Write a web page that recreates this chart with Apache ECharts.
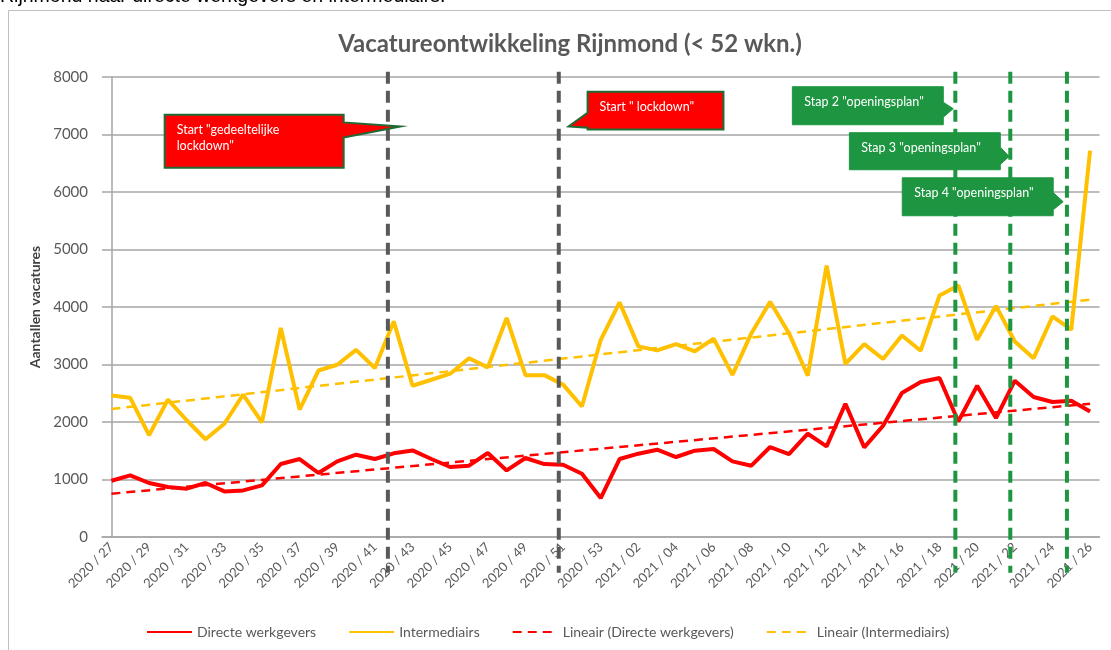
<!DOCTYPE html>
<html>
<head>
<meta charset="utf-8">
<script src="https://cdn.jsdelivr.net/npm/echarts@6/dist/echarts.min.js"></script>
<style>
  html, body { margin: 0; padding: 0; background: #fff; }
  #chart { width: 1111px; height: 650px; }
</style>
</head>
<body>
<div id="chart"></div>
<script>
// weken (categorieen)
const weeks = [
  "2020 / 27", "2020 / 28", "2020 / 29", "2020 / 30", "2020 / 31", "2020 / 32", "2020 / 33", "2020 / 34",
  "2020 / 35", "2020 / 36", "2020 / 37", "2020 / 38", "2020 / 39", "2020 / 40", "2020 / 41", "2020 / 42",
  "2020 / 43", "2020 / 44", "2020 / 45", "2020 / 46", "2020 / 47", "2020 / 48", "2020 / 49", "2020 / 50",
  "2020 / 51", "2020 / 52", "2020 / 53", "2021 / 01", "2021 / 02", "2021 / 03", "2021 / 04", "2021 / 05",
  "2021 / 06", "2021 / 07", "2021 / 08", "2021 / 09", "2021 / 10", "2021 / 11", "2021 / 12", "2021 / 13",
  "2021 / 14", "2021 / 15", "2021 / 16", "2021 / 17", "2021 / 18", "2021 / 19", "2021 / 20", "2021 / 21",
  "2021 / 22", "2021 / 23", "2021 / 24", "2021 / 25", "2021 / 26"
];

const directeWerkgevers = [
  979, 1071, 939, 869, 840, 939, 793, 810, 897, 1269, 1356, 1113, 1315, 1431, 1356, 1455,
  1506, 1356, 1217, 1240, 1461, 1158, 1374, 1269, 1257, 1101, 678, 1356, 1449, 1518, 1391, 1501,
  1530, 1315, 1240, 1565, 1443, 1796, 1576, 2318, 1559, 1935, 2504, 2695, 2765, 2010, 2631, 2069,
  2718, 2435, 2348, 2370, 2184
];

const intermediairs = [
  2460, 2420, 1770, 2390, 2030, 1700, 1970, 2475, 1995, 3635, 2215, 2895, 2995, 3255, 2940, 3750,
  2630, 2735, 2840, 3110, 2950, 3810, 2815, 2815, 2650, 2270, 3430, 4080, 3315, 3245, 3355, 3230,
  3450, 2820, 3540, 4090, 3545, 2805, 4720, 3010, 3355, 3095, 3505, 3240, 4200, 4375, 3430, 4020,
  3400, 3110, 3835, 3605, 6720
];

const trendDirecte = [[0, 753], [52, 2318]];
const trendInter = [[0, 2226], [52, 4127]];

const yTicks = [0, 1000, 2000, 3000, 4000, 5000, 6000, 7000, 8000];

// verticale markeringen: [x (week-index), yBoven, yOnder]
const greyMarkers = [[14.69, 8090, -620], [23.77, 8090, -620]];
const greenMarkers = [[44.84, 8090, -620], [47.76, 8090, -620], [50.77, 8090, -620]];

// callouts: [x0, x1, yTop, yBot, basisA, basisB, tipX, tipY]
const callouts = [
  [2.83, 12.34, 7344, 6423, 7210, 6948, 15.36, 7140],
  [25.3, 32.52, 7744, 7088, 7378, 7118, 24.29, 7140],
  [36.18, 44.2, 7831, 7170, 7560, 7300, 44.73, 7450],
  [39.21, 47.23, 7031, 6387, 6780, 6480, 47.7, 6618],
  [42.02, 50.04, 6247, 5587, 5990, 5690, 50.57, 5831]
];
const calloutTexts = [
  'Start "gedeeltelijke\nlockdown"',
  'Start " lockdown"',
  'Stap 2 "openingsplan"',
  'Stap 3 "openingsplan"',
  'Stap 4 "openingsplan"'
];
const calloutFill = ['#FF0000', '#FF0000', '#1E9641', '#1E9641', '#1E9641'];
const calloutBorder = ['#1F6B35', '#1F6B35', null, null, null];

const FONT = 'Lato, "Open Sans", sans-serif';

const chart = echarts.init(document.getElementById('chart'));

function renderMarker(color) {
  return function (params, api) {
    const p1 = api.coord([api.value(0), api.value(1)]);
    const p2 = api.coord([api.value(0), api.value(2)]);
    return {
      type: 'line',
      shape: { x1: p1[0], y1: p1[1], x2: p2[0], y2: p2[1] },
      style: { stroke: color, lineWidth: 4, lineDash: [12, 7] }
    };
  };
}

function renderCallout(params, api) {
  const i = params.dataIndex;
  const c = callouts[i];
  const pt = (x, y) => api.coord([x, y]);
  const [x0, x1, yt, yb, a, b, tx, ty] = c;
  let pts;
  if (tx > x1) {
    pts = [pt(x0, yt), pt(x1, yt), pt(x1, a), pt(tx, ty), pt(x1, b), pt(x1, yb), pt(x0, yb)];
  } else {
    pts = [pt(x0, yt), pt(x1, yt), pt(x1, yb), pt(x0, yb), pt(x0, b), pt(tx, ty), pt(x0, a)];
  }
  const tl = pt(x0, yt);
  return {
    type: 'group',
    children: [
      {
        type: 'polygon',
        shape: { points: pts },
        style: {
          fill: calloutFill[i],
          stroke: calloutBorder[i] || calloutFill[i],
          lineWidth: calloutBorder[i] ? 2 : 1
        }
      },
      {
        type: 'text',
        x: tl[0] + 12,
        y: tl[1] + 7,
        style: {
          text: calloutTexts[i],
          fill: '#fff',
          fontSize: 12.5,
          fontFamily: FONT,
          lineHeight: 16,
          align: 'left',
          verticalAlign: 'top'
        }
      }
    ]
  };
}

const option = {
  animation: false,
  backgroundColor: '#fff',
  title: {
    text: 'Vacatureontwikkeling Rijnmond (< 52 wkn.)',
    left: 565,
    top: 27,
    textAlign: 'center',
    textStyle: { fontFamily: FONT, fontSize: 24, fontWeight: 'bold', color: '#595959' }
  },
  graphic: [
    {
      type: 'rect',
      shape: { x: 8.5, y: 10.5, width: 1200, height: 700 },
      style: { fill: 'none', stroke: '#BFBFBF', lineWidth: 1 },
      silent: true, z: -10
    },
    {
      type: 'text',
      left: 0,
      top: -13,
      style: {
        text: 'Rijnmond naar directe werkgevers en intermediairs.',
        fill: '#000', fontSize: 19.5, fontFamily: '"Liberation Sans", Arial, sans-serif'
      }
    }
  ],
  legend: {
    left: 141,
    top: 620,
    itemWidth: 45,
    itemHeight: 10,
    itemGap: 32,
    itemStyle: { opacity: 0 },
    textStyle: { fontFamily: FONT, fontSize: 14, color: '#595959' },
    data: [
      { name: 'Directe werkgevers', textStyle: { width: 127 } },
      { name: 'Intermediairs', textStyle: { width: 89 } },
      { name: 'Lineair (Directe werkgevers)', textStyle: { width: 184 } },
      { name: 'Lineair (Intermediairs)', textStyle: { width: 146 } }
    ]
  },
  grid: { left: 102, right: 11.5, top: 77, bottom: 113 },
  xAxis: [
    {
      type: 'category',
      data: weeks,
      boundaryGap: true,
      axisLine: { lineStyle: { color: '#A6A6A6', width: 1.5 } },
      axisTick: { show: false },
      axisLabel: {
        interval: 1,
        rotate: 45,
        margin: 8,
        color: '#595959',
        fontFamily: FONT,
        fontSize: 13
      }
    },
    { type: 'value', min: -0.5, max: 52.5, show: false }
  ],
  yAxis: {
    type: 'value',
    min: yTicks[0],
    max: yTicks[yTicks.length - 1],
    interval: 1000,
    name: 'Aantallen vacatures',
    nameLocation: 'middle',
    nameGap: 47,
    nameTextStyle: { fontFamily: FONT, fontSize: 14, fontWeight: 'bold', color: '#404040' },
    axisLine: { show: true, lineStyle: { color: '#A6A6A6', width: 1.5 } },
    axisTick: { show: false },
    axisLabel: {
      color: '#595959', fontFamily: FONT, fontSize: 15, margin: 14,
      formatter: v => String(v)
    },
    splitLine: { lineStyle: { color: '#A6A6A6', width: 1.5 } }
  },
  series: [
    {
      name: 'Directe werkgevers',
      type: 'line',
      data: directeWerkgevers,
      symbol: 'none',
      color: '#FF0000',
      lineStyle: { color: '#FF0000', width: 4 },
      z: 3
    },
    {
      name: 'Intermediairs',
      type: 'line',
      data: intermediairs,
      symbol: 'none',
      color: '#FFC000',
      lineStyle: { color: '#FFC000', width: 4 },
      z: 3
    },
    {
      name: 'Lineair (Directe werkgevers)',
      type: 'line',
      xAxisIndex: 1,
      data: trendDirecte,
      symbol: 'none',
      color: '#FF0000',
      lineStyle: { color: '#FF0000', width: 2.5, type: [9, 6] },
      z: 4
    },
    {
      name: 'Lineair (Intermediairs)',
      type: 'line',
      xAxisIndex: 1,
      data: trendInter,
      symbol: 'none',
      color: '#FFC000',
      lineStyle: { color: '#FFC000', width: 2.5, type: [9, 6] },
      z: 4
    },
    {
      type: 'custom',
      xAxisIndex: 1,
      data: greyMarkers,
      encode: { x: 0, y: [1, 2] },
      renderItem: renderMarker('#595959'),
      clip: false,
      silent: true,
      z: 5
    },
    {
      type: 'custom',
      xAxisIndex: 1,
      data: greenMarkers,
      encode: { x: 0, y: [1, 2] },
      renderItem: renderMarker('#1E9641'),
      clip: false,
      silent: true,
      z: 5
    },
    {
      type: 'custom',
      xAxisIndex: 1,
      data: callouts,
      encode: { x: [0, 1, 6], y: [2, 3, 7] },
      renderItem: renderCallout,
      clip: false,
      silent: true,
      z: 6
    }
  ]
};

chart.setOption(option);
</script>
</body>
</html>
